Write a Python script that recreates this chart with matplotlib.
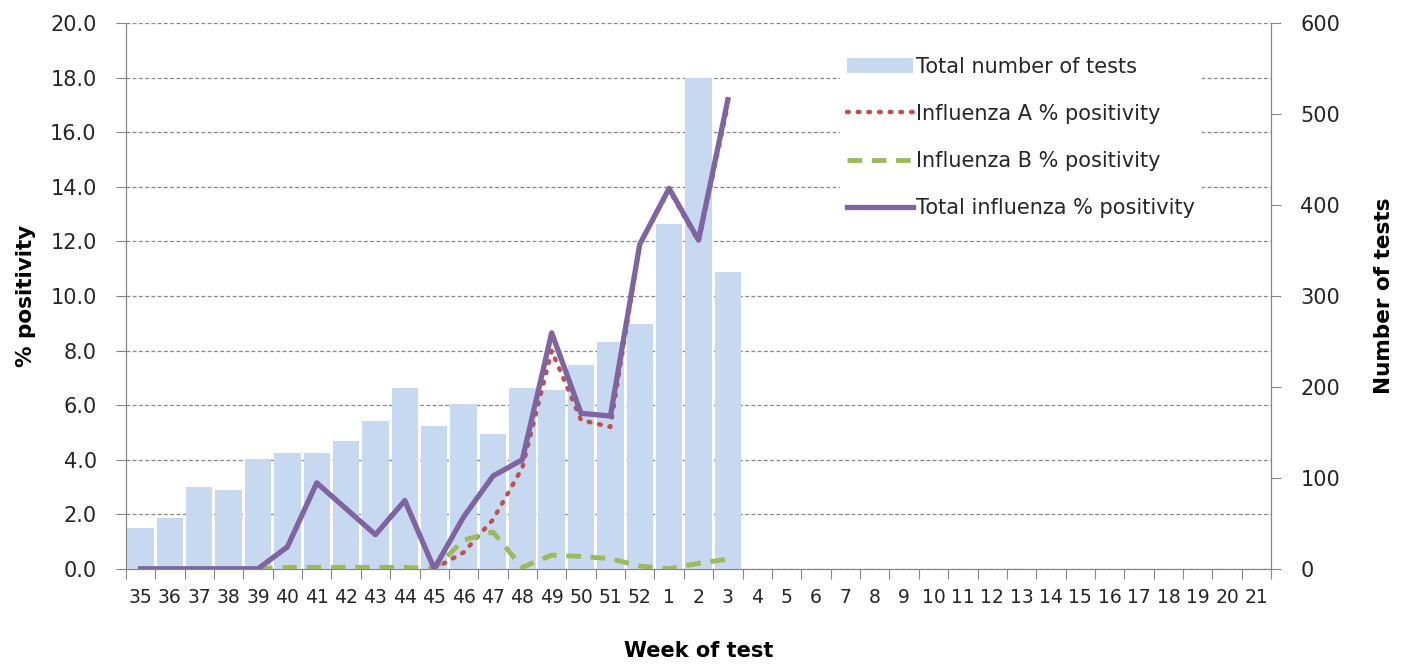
import numpy as np
import matplotlib
matplotlib.use('Agg')
import matplotlib.pyplot as plt

plt.rcParams['font.family'] = ['DejaVu Sans']

# Данные
weeks = [str(w) for w in range(35, 53)] + [str(w) for w in range(1, 22)]
n_tests = [45, 56, 90, 87, 121, 127, 127, 141, 163, 199, 157, 181, 148, 199,
           197, 224, 249, 269, 379, 540, 326]
flu_a = [np.nan] * 10 + [0.0, 0.6, 1.8, 3.7, 8.0, 5.45, 5.2, 11.9, 13.9, 12.0, 17.0]
flu_b = [np.nan] * 4 + [0.0, 0.05, 0.05, 0.05, 0.05, 0.05, 0.0, 1.05, 1.35, 0.05,
                        0.5, 0.45, 0.37, 0.1, 0.0, 0.2, 0.35]
flu_total = [0, 0, 0, 0, 0, 0.8, 3.15, 2.2, 1.25, 2.5, 0, 1.9, 3.4, 4.0,
             8.65, 5.7, 5.6, 11.9, 13.95, 12.05, 17.2]

x_all = np.arange(len(weeks))
x = x_all[:len(n_tests)]

fig = plt.figure(figsize=(14.14, 6.66), dpi=100)
ax = fig.add_axes([0.089, 0.146, 0.81, 0.819])
ax2 = ax.twinx()   # столбцы, правая ось
ax3 = ax.twinx()   # линии поверх столбцов

grey = '#868686'
txt = '#262626'

# Сетка на самой нижней оси
ax.set_ylim(0, 20)
ax.set_yticks(np.arange(0, 21, 2))
ax.set_yticklabels([f'{v:.1f}' for v in np.arange(0, 21, 2)])
ax.yaxis.grid(True, color=grey, linestyle=(0, (3, 2)), linewidth=0.9)
ax.set_axisbelow(True)

bars = ax2.bar(x, n_tests, width=0.9, color='#c6d9f0', label='Total number of tests')
ax2.set_ylim(0, 600)
ax2.set_yticks(range(0, 601, 100))

la, = ax3.plot(x, flu_a, color='#c0504d', linestyle=(0, (0.4, 2.0)), linewidth=3.2,
               dash_capstyle='round', label='Influenza A % positivity')
lb, = ax3.plot(x, flu_b, color='#9bbb59', linestyle=(0, (3, 2)), linewidth=3.5,
               label='Influenza B % positivity')
lt, = ax3.plot(x, flu_total, color='#8064a2', linewidth=3.8,
               label='Total influenza % positivity')
ax3.set_ylim(0, 20)
ax3.set_yticks([])
for s in ax3.spines.values():
    s.set_visible(False)

for a in (ax, ax2):
    a.set_xlim(-0.5, len(weeks) - 0.5)
    a.spines['top'].set_visible(False)
    for s in ('left', 'right', 'bottom'):
        a.spines[s].set_color(grey)
ax3.set_xlim(-0.5, len(weeks) - 0.5)

# Подписи недель по центру, засечки на границах
ax.set_xticks(np.arange(-0.5, len(weeks), 1))
ax.set_xticklabels([])
ax.set_xticks(x_all, minor=True)
ax.set_xticklabels(weeks, minor=True)
ax.tick_params(axis='x', which='major', length=7, color=grey)
ax.tick_params(axis='x', which='minor', length=0, labelsize=13.5, pad=14,
               labelcolor=txt)
ax.tick_params(axis='y', length=7, color=grey, labelsize=15, pad=14, labelcolor=txt)
ax2.tick_params(axis='y', length=7, color=grey, labelsize=15, pad=14, labelcolor=txt)

ax.set_ylabel('% positivity', fontsize=15.5, fontweight='bold', labelpad=10)
ax2.set_ylabel('Number of tests', fontsize=15.5, fontweight='bold', labelpad=24)
ax.set_xlabel('Week of test', fontsize=15, fontweight='bold', labelpad=24)

leg = ax3.legend([bars, la, lb, lt],
                 ['Total number of tests', 'Influenza A % positivity',
                  'Influenza B % positivity', 'Total influenza % positivity'],
                 loc='upper left', bbox_to_anchor=(0.587, 0.94), bbox_transform=fig.transFigure,
                 fontsize=15, frameon=True, framealpha=1, edgecolor='none',
                 handlelength=3.2, handletextpad=0.15, labelspacing=1.3, borderpad=0.3)
for t in leg.get_texts():
    t.set_color(txt)

fig.savefig('out.png', dpi=100)
